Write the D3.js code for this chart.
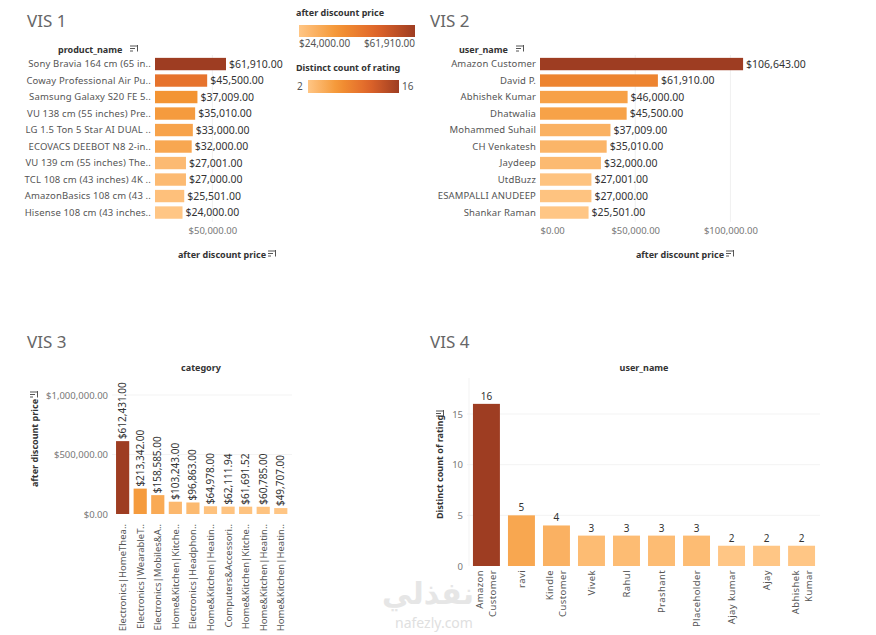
<!DOCTYPE html>
<html>
<head>
<meta charset="utf-8">
<script src="https://cdn.jsdelivr.net/npm/d3@7"></script>
<style>
  body { margin: 0; background: #fff; }
  svg { display: block; font-family: "Noto Sans", "Open Sans", sans-serif; }
</style>
</head>
<body>
<div id="chart"></div>
<script>
// VIS 1 - top products by after discount price
const vis1Products = ['Sony Bravia 164 cm (65 in..', 'Coway Professional Air Pu..', 'Samsung Galaxy S20 FE 5..',
    'VU 138 cm (55 inches) Pre..', 'LG 1.5 Ton 5 Star AI DUAL ..', 'ECOVACS DEEBOT N8 2-in..',
    'VU 139 cm (55 inches) The..', 'TCL 108 cm (43 inches) 4K ..', 'AmazonBasics 108 cm (43 ..', 'Hisense 108 cm (43 inches..'];
const vis1Prices = [61910, 45500, 37009, 35010, 33000, 32000, 27001, 27000, 25501, 24000];
const vis1Ticks = [50000];

// VIS 2 - top users by after discount price
const vis2Users = ['Amazon Customer', 'David P.', 'Abhishek Kumar', 'Dhatwalia', 'Mohammed Suhail',
    'CH Venkatesh', 'Jaydeep', 'UtdBuzz', 'ESAMPALLI ANUDEEP', 'Shankar Raman'];
const vis2Prices = [106643, 61910, 46000, 45500, 37009, 35010, 32000, 27001, 27000, 25501];
const vis2Ticks = [0, 50000, 100000];

// VIS 3 - categories
const vis3Categories = ['Electronics|HomeThea..', 'Electronics|WearableT..', 'Electronics|Mobiles&A..',
    'Home&Kitchen|Kitche..', 'Electronics|Headphon..', 'Home&Kitchen|Heatin..', 'Computers&Accessori..',
    'Home&Kitchen|Kitche.. ', 'Home&Kitchen|Heatin.. ', 'Home&Kitchen|Heatin..  '];
const vis3Prices = [612431, 213342, 158585, 103243, 96863, 64978, 62111.94, 61691.52, 60785, 49707];
const vis3Ticks = [0, 500000, 1000000];

// VIS 4 - distinct count of rating per user
const vis4Users = ['Amazon Customer', 'ravi', 'Kindle Customer', 'Vivek', 'Rahul', 'Prashant',
    'Placeholder', 'Ajay kumar', 'Ajay', 'Abhishek Kumar'];
const vis4Counts = [16, 5, 4, 3, 3, 3, 3, 2, 2, 2];
const vis4Ticks = [0, 5, 10, 15];

const orangeStops = ['#ffc685', '#f49533', '#e0652a', '#9e3d22'];
const orangeInterp = d3.piecewise(d3.interpolateRgb, orangeStops);
const money = v => '$' + d3.format(',.2f')(v);

const svg = d3.select('#chart').append('svg')
    .attr('width', 876)
    .attr('height', 635);

svg.append('rect').attr('width', 876).attr('height', 635).attr('fill', '#fff');

function sortIcon(x, y) {
    const g = svg.append('g').attr('transform', `translate(${x},${y})`);
    [7, 5, 3].forEach((w, i) => {
        g.append('line').attr('x1', 0).attr('x2', w)
            .attr('y1', i * 2.5).attr('y2', i * 2.5)
            .attr('stroke', '#555').attr('stroke-width', 1);
    });
    g.append('line').attr('x1', 7.5).attr('x2', 7.5).attr('y1', -1).attr('y2', 5.5)
        .attr('stroke', '#555').attr('stroke-width', 1);
}

function title(text, x, y) {
    svg.append('text').attr('x', x).attr('y', y)
        .attr('font-size', 17).attr('fill', '#666')
        .text(text);
}

function header(text, x, y, anchor) {
    svg.append('text').attr('x', x).attr('y', y)
        .attr('font-size', 9).attr('font-weight', 'bold').attr('fill', '#333')
        .attr('text-anchor', anchor || 'start')
        .text(text);
}

// horizontal bar chart (VIS 1 / VIS 2)
function hbar(names, values, ticks, xMax, xRange, labelRight) {
    const color = d3.scaleSequential(orangeInterp).domain(d3.extent(values));
    const x = d3.scaleLinear().domain([0, xMax]).range(xRange);
    const y = d3.scaleBand().domain(names).range([55.8, 220.8]).paddingInner(0.25).paddingOuter(0.125);
    const data = names.map((n, i) => ({ name: n, value: values[i] }));

    const g = svg.append('g');

    g.selectAll('.grid')
        .data(ticks.filter(t => t > 0))
        .enter().append('line')
        .attr('x1', d => x(d)).attr('x2', d => x(d))
        .attr('y1', 55).attr('y2', 222)
        .attr('stroke', '#f0f0f0');

    g.selectAll('.bar')
        .data(data)
        .enter().append('rect')
        .attr('x', x(0))
        .attr('y', d => y(d.name))
        .attr('width', d => x(d.value) - x(0))
        .attr('height', y.bandwidth())
        .attr('fill', d => color(d.value));

    g.selectAll('.vlabel')
        .data(data)
        .enter().append('text')
        .attr('x', d => x(d.value) + 3)
        .attr('y', d => y(d.name) + y.bandwidth() / 2)
        .attr('dy', '0.35em')
        .attr('font-size', 10.5).attr('fill', '#333')
        .text(d => money(d.value));

    g.selectAll('.nlabel')
        .data(data)
        .enter().append('text')
        .attr('x', labelRight)
        .attr('y', d => y(d.name) + y.bandwidth() / 2)
        .attr('dy', '0.35em')
        .attr('text-anchor', 'end')
        .attr('font-size', 9.5).attr('fill', '#555')
        .attr('letter-spacing', 0.15)
        .text(d => d.name);

    const axis = g.append('g')
        .attr('transform', 'translate(0,224)')
        .call(d3.axisBottom(x).tickValues(ticks).tickSize(0).tickPadding(3).tickFormat(money));
    axis.select('.domain').remove();
    axis.selectAll('text').attr('font-size', 9.5).attr('fill', '#777')
        .attr('font-family', '"Noto Sans", sans-serif')
        .attr('text-anchor', d => d === 0 ? 'start' : 'middle');
}

// ---- VIS 1
title('VIS 1', 27, 27);
header('product_name', 58, 53);
sortIcon(130, 46);
hbar(vis1Products, vis1Prices, vis1Ticks, 75000, [155, 241], 151);
header('after discount price', 222, 258, 'middle');
sortIcon(268, 251);

// ---- VIS 2
title('VIS 2', 430, 27);
header('user_name', 459, 53);
sortIcon(516, 46);
hbar(vis2Users, vis2Prices, vis2Ticks, 115000, [540, 759], 536);
header('after discount price', 680, 258, 'middle');
sortIcon(726, 251);

// ---- legends
const defs = svg.append('defs');
function gradient(id) {
    const lg = defs.append('linearGradient').attr('id', id);
    d3.range(0, 1.001, 0.1).forEach(t => {
        lg.append('stop').attr('offset', t).attr('stop-color', orangeInterp(t));
    });
}
gradient('gradPrice');
gradient('gradRating');

header('after discount price', 296, 16);
svg.append('rect').attr('x', 299).attr('y', 25).attr('width', 116).attr('height', 12)
    .attr('fill', 'url(#gradPrice)');
svg.append('text').attr('x', 299).attr('y', 47).attr('font-size', 10).attr('fill', '#555')
    .text(money(d3.min(vis1Prices)));
svg.append('text').attr('x', 415).attr('y', 47).attr('text-anchor', 'end').attr('font-size', 10).attr('fill', '#555')
    .text(money(d3.max(vis1Prices)));

svg.append('text').attr('x', 296).attr('y', 71).attr('font-size', 9).attr('fill', '#333')
    .attr('font-weight', 'bold').text('Distinct count of rating');
svg.append('rect').attr('x', 308).attr('y', 80).attr('width', 91).attr('height', 13)
    .attr('fill', 'url(#gradRating)');
svg.append('text').attr('x', 297).attr('y', 90).attr('font-size', 10).attr('fill', '#555')
    .text(d3.min(vis4Counts));
svg.append('text').attr('x', 402).attr('y', 90).attr('font-size', 10).attr('fill', '#555')
    .text(d3.max(vis4Counts));

// ---- VIS 3
title('VIS 3', 27, 348);
header('category', 201, 371, 'middle');
{
    const color = d3.scaleSequential(orangeInterp).domain(d3.extent(vis3Prices));
    const x = d3.scaleBand().domain(vis3Categories).range([113.4, 290]).paddingInner(0.25).paddingOuter(0.15);
    const y = d3.scaleLinear().domain([0, 1000000]).range([514, 395]);
    const data = vis3Categories.map((c, i) => ({ cat: c, value: vis3Prices[i] }));
    const g = svg.append('g');

    g.selectAll('.grid').data(vis3Ticks.filter(t => t > 0)).enter().append('line')
        .attr('x1', 112).attr('x2', 292)
        .attr('y1', d => y(d)).attr('y2', d => y(d))
        .attr('stroke', '#f3f3f3');

    g.selectAll('.bar').data(data).enter().append('rect')
        .attr('x', d => x(d.cat))
        .attr('y', d => y(d.value))
        .attr('width', x.bandwidth())
        .attr('height', d => y(0) - y(d.value))
        .attr('fill', d => color(d.value));

    g.selectAll('.vlabel').data(data).enter().append('text')
        .attr('transform', d => `translate(${x(d.cat) + x.bandwidth() / 2 + 3.5},${y(d.value) - 2}) rotate(-90)`)
        .attr('font-size', 10).attr('fill', '#333')
        .text(d => money(d.value));

    g.selectAll('.xlabel').data(data).enter().append('text')
        .attr('transform', d => `translate(${x(d.cat) + x.bandwidth() / 2 + 3.5},${y(0) + 10}) rotate(-90)`)
        .attr('text-anchor', 'end')
        .attr('font-size', 9.5).attr('fill', '#555')
        .text(d => d.cat.trim());

    const axis = g.append('g').attr('transform', 'translate(111,0)')
        .call(d3.axisLeft(y).tickValues(vis3Ticks).tickSize(0).tickPadding(3).tickFormat(money));
    axis.select('.domain').remove();
    axis.selectAll('text').attr('font-size', 9.5).attr('fill', '#777')
        .attr('font-family', '"Noto Sans", sans-serif');

    svg.append('text').attr('transform', 'translate(38,443) rotate(-90)')
        .attr('text-anchor', 'middle').attr('font-size', 9).attr('font-weight', 'bold').attr('fill', '#333')
        .text('after discount price');
    sortIcon(30, 392);
}

// ---- VIS 4
title('VIS 4', 430, 348);
header('user_name', 644, 371, 'middle');
{
    const color = d3.scaleSequential(orangeInterp).domain(d3.extent(vis4Counts));
    const x = d3.scaleBand().domain(vis4Users).range([467.7, 820.3]).paddingInner(0.23).paddingOuter(0.15);
    const y = d3.scaleLinear().domain([0, 15]).range([566, 414]);
    const data = vis4Users.map((u, i) => ({ user: u, value: vis4Counts[i] }));
    const g = svg.append('g');

    g.selectAll('.grid').data(vis4Ticks.filter(t => t > 0)).enter().append('line')
        .attr('x1', 467).attr('x2', 820)
        .attr('y1', d => y(d)).attr('y2', d => y(d))
        .attr('stroke', '#f3f3f3');

    g.append('line').attr('x1', 469).attr('x2', 469).attr('y1', 378).attr('y2', 566)
        .attr('stroke', '#f3f3f3');

    g.selectAll('.bar').data(data).enter().append('rect')
        .attr('x', d => x(d.user))
        .attr('y', d => y(d.value))
        .attr('width', x.bandwidth())
        .attr('height', d => y(0) - y(d.value))
        .attr('fill', d => color(d.value));

    g.selectAll('.vlabel').data(data).enter().append('text')
        .attr('x', d => x(d.user) + x.bandwidth() / 2)
        .attr('y', d => y(d.value) - 4)
        .attr('text-anchor', 'middle')
        .attr('font-size', 10).attr('fill', '#333')
        .text(d => d.value);

    // rotated user labels, multi-word names wrap to two lines
    const twoLine = ['Amazon Customer', 'Kindle Customer', 'Abhishek Kumar'];
    data.forEach(d => {
        const lines = twoLine.includes(d.user) ? d.user.split(' ') : [d.user];
        const cx = x(d.user) + x.bandwidth() / 2;
        lines.forEach((line, i) => {
            const off = lines.length === 1 ? 3.5 : (i === 0 ? -3 : 10);
            g.append('text')
                .attr('transform', `translate(${cx + off},${y(0) + 4}) rotate(-90)`)
                .attr('text-anchor', 'end')
                .attr('font-size', 9.5).attr('fill', '#555')
                .attr('letter-spacing', 0.4)
                .text(line);
        });
    });

    const axis = g.append('g').attr('transform', 'translate(466,0)')
        .call(d3.axisLeft(y).tickValues(vis4Ticks).tickSize(0).tickPadding(3));
    axis.select('.domain').remove();
    axis.selectAll('text').attr('font-size', 9.5).attr('fill', '#777')
        .attr('font-family', '"Noto Sans", sans-serif');

    svg.append('text').attr('transform', 'translate(443,467) rotate(-90)')
        .attr('text-anchor', 'middle').attr('font-size', 9).attr('font-weight', 'bold').attr('fill', '#333')
        .text('Distinct count of rating');
    sortIcon(436, 411);
}

// watermark
svg.append('text').attr('x', 428).attr('y', 604).attr('text-anchor', 'middle')
    .attr('font-size', 30).attr('font-weight', 'bold').attr('fill', '#e6e6e6')
    .attr('font-family', '"DejaVu Sans", sans-serif')
    .text('نفذلي');
svg.append('text').attr('x', 434).attr('y', 628).attr('text-anchor', 'middle')
    .attr('font-size', 14).attr('fill', '#e0e0e0')
    .text('nafezly.com');
</script>
</body>
</html>
